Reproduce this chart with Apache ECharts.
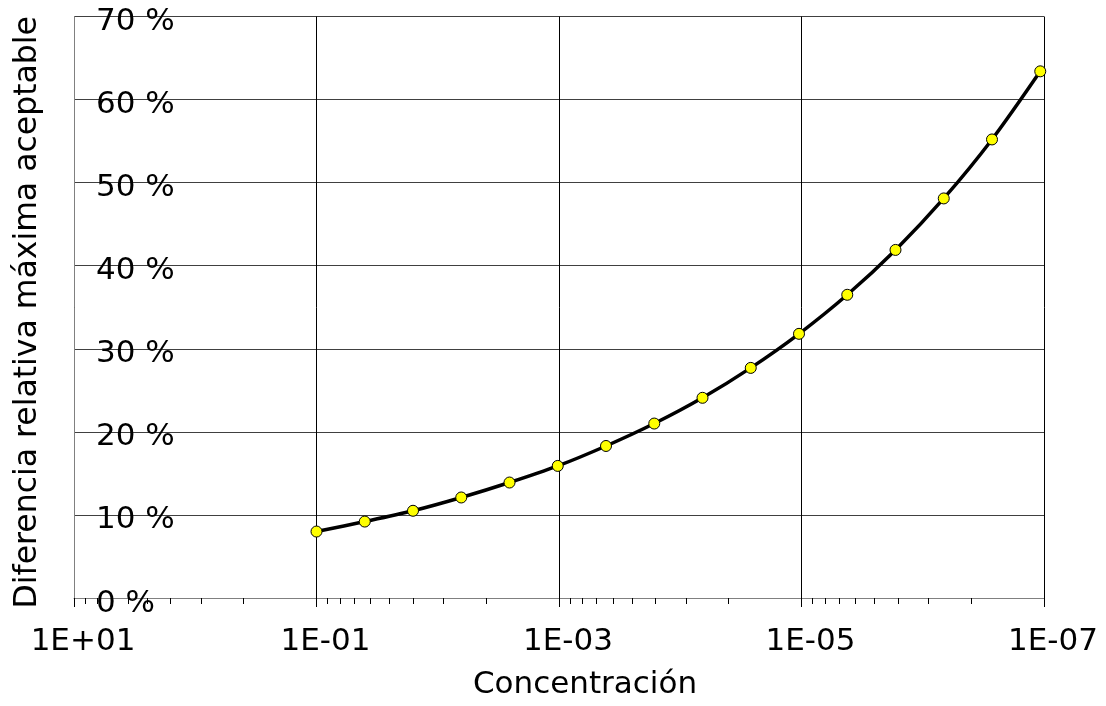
<!DOCTYPE html>
<html>
<head>
<meta charset="utf-8">
<script src="https://cdn.jsdelivr.net/npm/echarts@6/dist/echarts.min.js"></script>
<style>
html,body{margin:0;padding:0;background:#fff;}
#chart{width:1106px;height:706px;}
</style>
</head>
<body>
<div id="chart"></div>
<script>
// Data
const concentrations = [0.1, 0.04, 0.016, 0.0064, 0.00256, 0.001024, 4.096e-4, 1.6384e-4,
  6.5536e-5, 2.62144e-5, 1.048576e-5, 4.194304e-6, 1.6777216e-6, 6.7108864e-7, 2.68435456e-7, 1.073741824e-7];
const maxDifference = [8.0, 9.2, 10.5, 12.1, 13.9, 15.9, 18.3, 21.0, 24.1, 27.7, 31.8, 36.5, 41.9, 48.1, 55.2, 63.4];
const xMajorTicks = [10, 0.1, 1e-3, 1e-5, 1e-7];
const xTickLabels = ['1E+01', '1E-01', '1E-03', '1E-05', '1E-07'];
const xMinorTicks = [8.1, 6.4, 4.9, 3.6, 2.5, 1.6, 0.9, 0.4,
  0.081, 0.064, 0.049, 0.036, 0.025, 0.016, 0.009, 0.004,
  8.1e-4, 6.4e-4, 4.9e-4, 3.6e-4, 2.5e-4, 1.6e-4, 9e-5, 4e-5,
  8.1e-6, 6.4e-6, 4.9e-6, 3.6e-6, 2.5e-6, 1.6e-6, 9e-7, 4e-7];
const yTicks = [0, 10, 20, 30, 40, 50, 60, 70];
const xTitle = 'Concentración';
const yTitle = 'Diferencia relativa máxima aceptable';

const FONT = 'DejaVu Sans';
const chart = echarts.init(document.getElementById('chart'), null, {renderer: 'canvas'});

function labelFor(v) {
  let best = 0, bd = Infinity;
  xMajorTicks.forEach((t, i) => { const d = Math.abs(Math.log10(t) - Math.log10(v)); if (d < bd) { bd = d; best = i; } });
  return xTickLabels[best];
}

const option = {
  backgroundColor: '#ffffff',
  animation: false,
  grid: {left: 74, right: 62, top: 12, bottom: 108, containLabel: false},
  xAxis: [{
    type: 'log', logBase: 10, min: 1e-7, max: 10, inverse: true,
    position: 'bottom',
    axisLine: {show: true, lineStyle: {color: '#808080', width: 1}},
    axisTick: {show: true, customValues: xMajorTicks, length: 9, inside: false, lineStyle: {color: '#000', width: 1}},
    minorTick: {show: false},
    axisLabel: {show: true, customValues: xMajorTicks, formatter: labelFor, fontFamily: FONT, fontSize: 31, color: '#000', margin: 28, padding: [0, 0, 0, 18]},
    splitLine: {show: true, lineStyle: {color: '#000', width: 1}},
    name: xTitle, nameLocation: 'middle', nameGap: 71,
    nameTextStyle: {fontFamily: FONT, fontSize: 31, color: '#000', padding: [0, 0, 0, 52]}
  }, {
    type: 'log', logBase: 10, min: 1e-7, max: 10, inverse: true,
    position: 'bottom', gridIndex: 0,
    axisLine: {show: false},
    axisTick: {show: true, customValues: xMinorTicks, length: 6, lineStyle: {color: '#000', width: 1}},
    minorTick: {show: false},
    axisLabel: {show: false},
    splitLine: {show: false}
  }],
  yAxis: {
    type: 'value', min: 0, max: 70, interval: 10,
    axisLine: {show: true, lineStyle: {color: '#808080', width: 1}},
    axisTick: {show: false},
    axisLabel: {inside: true, margin: 22, fontFamily: FONT, fontSize: 31, color: '#000',
      verticalAlign: 'middle',
      formatter: v => (yTicks.indexOf(v) >= 0 ? '{s|}\n{t|' + v + ' %}' : ''),
      rich: {
        s: {lineHeight: 11, fontSize: 2},
        t: {lineHeight: 31, fontSize: 31, fontFamily: FONT, color: '#000'}
      }},
    splitLine: {show: true, lineStyle: {color: '#404040', width: 1}},
    name: yTitle, nameLocation: 'middle', nameRotate: 90, nameGap: 30,
    nameTextStyle: {fontFamily: FONT, fontSize: 31.5, color: '#000', padding: [0, 10, 0, 0]}
  },
  series: [{
    type: 'line',
    xAxisIndex: 0,
    data: concentrations.map((c, i) => [c, maxDifference[i]]),
    smooth: 0.3,
    symbol: 'circle', symbolSize: 11,
    lineStyle: {color: '#000', width: 3.5},
    itemStyle: {color: '#ffff00', borderColor: '#000', borderWidth: 1},
    z: 5
  }]
};
chart.setOption(option);
</script>
</body>
</html>
